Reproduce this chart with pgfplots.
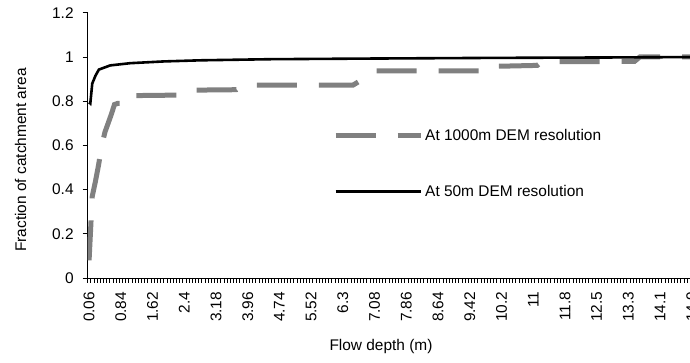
\documentclass[border=0pt]{standalone}
\usepackage{fontspec}
\setmainfont{Liberation Sans}
\usepackage{pgfplots}
\pgfplotsset{compat=1.18}
\definecolor{dgray}{RGB}{128,128,128}
\begin{document}
\begin{tikzpicture}[font=\fontsize{15.5}{18}\selectfont]
\begin{axis}[
  at={(87.5bp,85bp)}, anchor=south west,
  scale only axis, width=615.3bp, height=265.2bp,
  xmin=0.021, xmax=15.15, ymin=0, ymax=1.2,
  axis lines*=left,
  axis line style={line width=0.8bp},
  xtick={0.06,0.84,1.62,2.40,3.18,3.96,4.74,5.52,6.30,7.08,7.86,8.64,9.42,10.20,10.98,11.76,12.54,13.32,14.10,14.88},
  xticklabels={0.06,0.84,1.62,2.4,3.18,3.96,4.74,5.52,6.3,7.08,7.86,8.64,9.42,10.2,11,11.8,12.5,13.3,14.1,14.9},
  minor xtick={0.021,0.099,...,15.2},
  major x tick style={draw=none},
  minor x tick style={line width=0.6bp},
  minor tick length=5bp,
  ytick={0,0.2,0.4,0.6,0.8,1,1.2},
  yticklabels={0,0.2,0.4,0.6,0.8,1,1.2},
  major tick length=5bp,
  tick align=outside,
  tick style={black, line width=0.8bp},
  xticklabel style={rotate=90, anchor=east, inner sep=0pt},
  yticklabel style={anchor=east, inner sep=0pt},
  xticklabel shift=8.7bp,
  yticklabel shift=8.7bp,
  xlabel={Flow depth (m)},
  ylabel={Fraction of catchment area},
  xlabel style={at={(axis description cs:0.477,-0.275)}, anchor=base, inner sep=0pt},
  ylabel style={at={(axis description cs:-0.09995,0.445)}, anchor=base, inner sep=0pt},
  legend style={at={(axis description cs:0.399,0.431)}, anchor=west, draw=none, fill=none,
    inner sep=0pt, row sep=39bp, column sep=0pt},
  legend cell align=left,
  legend image code/.code={\draw[#1] (0bp,0bp) -- (85bp,0bp);},
]
\addplot[dgray, line width=5bp, line cap=butt, dash pattern=on 40bp off 22bp] coordinates {
(0.06,0.08) (0.138,0.37) (0.216,0.437) (0.294,0.512) (0.372,0.60) (0.45,0.66) (0.528,0.70)
(0.606,0.74) (0.684,0.785) (0.762,0.79) (0.84,0.79) (0.918,0.79) (0.996,0.825)
(2.45,0.828) (2.60,0.850) (3.68,0.852) (3.82,0.873) (6.55,0.873) (6.75,0.895) (7.05,0.937)
(9.95,0.937) (10.10,0.958) (11.08,0.962) (11.20,0.979) (13.47,0.98) (13.60,1.0) (15.15,1.0)
};
\addlegendentry{At 1000m DEM resolution}
\addplot[black, line width=2.6bp] coordinates {
(0.06,0.795) (0.09,0.79) (0.138,0.88) (0.216,0.915) (0.30,0.943) (0.58,0.962) (1.07,0.972)
(1.9,0.98) (2.8,0.985) (4.5,0.99) (7.0,0.993) (10,0.996) (13,0.998) (15.15,1.0)
};
\addlegendentry{At 50m DEM resolution}
\end{axis}
\pgfresetboundingbox
\path[use as bounding box] (0,0) rectangle (690bp,363bp);
\end{tikzpicture}
\end{document}
